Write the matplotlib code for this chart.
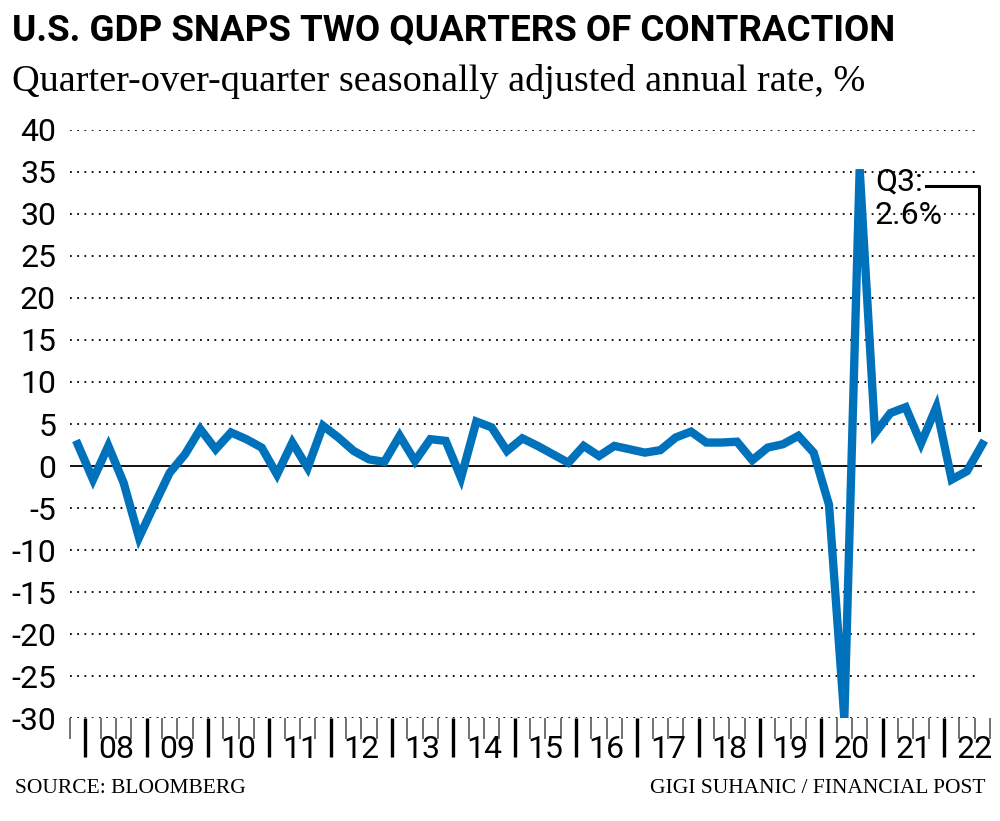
import matplotlib
matplotlib.use("Agg")
import matplotlib.pyplot as plt
import numpy as np

# 2007Q4 .. 2022Q3
gdp = [2.6,
       -1.6, 2.4, -2.0, -8.5,
       -4.6, -0.8, 1.4, 4.4,
       2.0, 4.0, 3.2, 2.2,
       -1.0, 2.8, -0.2, 4.8,
       3.4, 1.8, 0.8, 0.5,
       3.6, 0.6, 3.2, 3.0,
       -1.4, 5.3, 4.6, 1.8,
       3.3, 2.4, 1.4, 0.4,
       2.4, 1.2, 2.4, 2.0,
       1.6, 1.9, 3.4, 4.1,
       2.8, 2.8, 2.9, 0.7,
       2.2, 2.6, 3.6, 1.6,
       -4.6, -30.0, 35.3, 3.9,
       6.3, 7.0, 2.7, 7.0,
       -1.6, -0.6, 2.6]
years = ["08","09","10","11","12","13","14","15","16","17","18","19","20","21","22"]
yticks = [40,35,30,25,20,15,10,5,0,-5,-10,-15,-20,-25,-30]

cond = ['Roboto', 'DejaVu Sans']
fig = plt.figure(figsize=(10, 8.21), dpi=100)
ax = fig.add_axes([0.07, 0.125, 0.92, 0.717])
x = np.arange(len(gdp))
ax.set_xlim(-0.45, 59.3)
ax.set_ylim(-30, 40)
for v in yticks:
    if v != 0:
        ax.axhline(v, color='black', lw=1.3, ls=(0, (1, 3)), zorder=1, xmax=0.985)
ax.axhline(0, color='black', lw=1.3, zorder=2, xmax=0.99)
ax.plot(x, gdp, color='#0072bc', lw=6, solid_joinstyle='miter', zorder=3)
for s in ax.spines.values():
    s.set_visible(False)
ax.set_yticks(yticks)
ax.set_yticklabels([str(v) for v in yticks], family=cond, fontsize=23)
ax.tick_params(axis='y', length=0, pad=10)
# x ticks
bounds = np.arange(-0.5, 60, 1)
major = [b for b in bounds if (b - 0.5) % 4 == 0]
minor = [b for b in bounds if (b - 0.5) % 4 != 0]
ax.set_xticks(major)
ax.set_xticks(minor, minor=True)
ax.set_xticklabels([])
ax.tick_params(axis='x', which='major', length=28, width=2.4, color='black', pad=0)
ax.tick_params(axis='x', which='minor', length=15, width=1.3, color='#666666')
for i, y in enumerate(years):
    ax.text(2.5 + 4 * i, -32.0, y, ha='center', va='top', fontsize=23, family=cond)
# annotation
ax.text(52.0, 35.5, "Q3:\n2.6%", ha='left', va='top', fontsize=23, family=cond, linespacing=1.2)
ax.plot([55.3, 58.8, 58.8], [33.3, 33.3, 4.3], color='black', lw=2.2, zorder=4)

fig.text(0.012, 0.985, "U.S. GDP SNAPS TWO QUARTERS OF CONTRACTION", fontsize=26.5,
         fontweight='bold', family=cond, va='top')
fig.text(0.012, 0.922, "Quarter-over-quarter seasonally adjusted annual rate, %", fontsize=27.5,
         family='Liberation Serif', va='top')
fig.text(0.015, 0.04, "SOURCE: BLOOMBERG", fontsize=15.5, family='Liberation Serif', va='center')
fig.text(0.985, 0.04, "GIGI SUHANIC / FINANCIAL POST", fontsize=15.5, family='Liberation Serif',
         va='center', ha='right')
fig.savefig("out.png", dpi=100)
